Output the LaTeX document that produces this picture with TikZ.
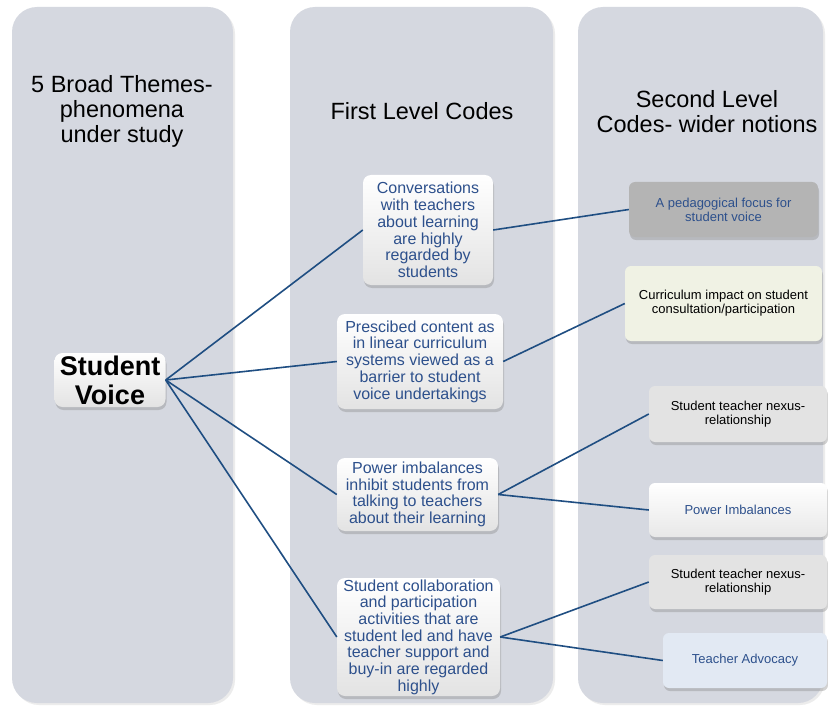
\documentclass[tikz,border=0pt]{standalone}
\usepackage{fontspec}
\setmainfont{Liberation Sans}
\usetikzlibrary{shadows}
\definecolor{colfill}{RGB}{213,216,224}
\definecolor{linkblue}{RGB}{31,78,130}
\definecolor{txtblue}{RGB}{45,80,140}
\definecolor{darkgreybox}{RGB}{180,180,180}
\definecolor{greenbox}{RGB}{240,242,228}
\definecolor{greybox}{RGB}{227,227,227}
\definecolor{bluebox}{RGB}{226,233,243}
\tikzset{
  column/.style={fill=colfill, rounded corners=25pt, drop shadow={opacity=0.15, shadow xshift=2pt, shadow yshift=-2pt}},
  coltitle/.style={align=center, font=\fontsize{23.5}{25}\selectfont, text=black},
  firstbox/.style={rectangle, rounded corners=8pt, inner sep=0pt, top color=white, bottom color=gray!22,
    drop shadow={opacity=0.35, shadow xshift=1pt, shadow yshift=-3pt},
    align=center, text=txtblue, font=\fontsize{16}{16.7}\selectfont},
  secbox/.style={rectangle, rounded corners=6pt, inner sep=0pt,
    drop shadow={opacity=0.35, shadow xshift=1pt, shadow yshift=-3pt},
    align=center, font=\fontsize{13}{14}\selectfont},
  link/.style={draw=linkblue, line width=1.6pt}
}
\begin{document}
\begin{tikzpicture}[x=1pt,y=-1pt]
\path[fill=white] (0,0) rectangle (828,706);
\useasboundingbox (0,0) rectangle (828,706);
% columns
\path[column] (12,7) rectangle (233,703);
\path[column] (290,7) rectangle (553,703);
\path[column] (578,7) rectangle (823,703);
% titles
\node[coltitle] (t1) at (122,111) {5 Broad Themes-\\phenomena\\under study};
\node[coltitle] (t2) at (422,111) {First Level Codes};
\node[coltitle] (t3) at (707,111.5) {Second Level\\Codes- wider notions};
% central node
\node[firstbox, minimum width=111pt, minimum height=54pt, text=black,
  font=\fontsize{27}{29}\selectfont\bfseries] (sv) at (110,380) {Student\\Voice};
% first level
\node[firstbox, minimum width=130pt, minimum height=110pt] (f1) at (428,230)
  {Conversations\\with teachers\\about learning\\are highly\\regarded by\\students};
\node[firstbox, minimum width=166pt, minimum height=95pt] (f2) at (420,361.5)
  {Prescibed content as\\in linear curriculum\\systems viewed as a\\barrier to student\\voice undertakings};
\node[firstbox, minimum width=161pt, minimum height=73pt] (f3) at (417.5,494.5)
  {Power imbalances\\inhibit students from\\talking to teachers\\about their learning};
\node[firstbox, minimum width=163pt, minimum height=118pt] (f4) at (418.5,637)
  {Student collaboration\\and participation\\activities that are\\student led and have\\teacher support and\\buy-in are regarded\\highly};
% second level
\node[secbox, fill=darkgreybox, text=txtblue, minimum width=189pt, minimum height=55pt] (r1) at (723.5,209.5)
  {A pedagogical focus for\\student voice};
\node[secbox, fill=greenbox, text=black, minimum width=197pt, minimum height=75pt] (r2) at (723.5,303.5)
  {Curriculum impact on student\\consultation/participation};
\node[secbox, fill=greybox, text=black, minimum width=178pt, minimum height=56pt] (r3) at (738,414)
  {Student teacher nexus-\\relationship};
\node[secbox, top color=white, bottom color=gray!18, text=txtblue, minimum width=178pt, minimum height=54pt] (r4) at (738,510)
  {Power Imbalances};
\node[secbox, fill=greybox, text=black, minimum width=178pt, minimum height=54pt] (r5) at (738,582)
  {Student teacher nexus-\\relationship};
\node[secbox, fill=bluebox, text=txtblue, minimum width=164pt, minimum height=55pt] (r6) at (745,660.5)
  {Teacher Advocacy};
% connectors
\draw[link] (sv.east) -- (f1.west);
\draw[link] (sv.east) -- (f2.west);
\draw[link] (sv.east) -- (f3.west);
\draw[link] (sv.east) -- (f4.west);
\draw[link] (f1.east) -- (r1.west);
\draw[link] (f2.east) -- (r2.west);
\draw[link] (f3.east) -- (r3.west);
\draw[link] (f3.east) -- (r4.west);
\draw[link] (f4.east) -- (r5.west);
\draw[link] (f4.east) -- (r6.west);
\end{tikzpicture}
\end{document}
